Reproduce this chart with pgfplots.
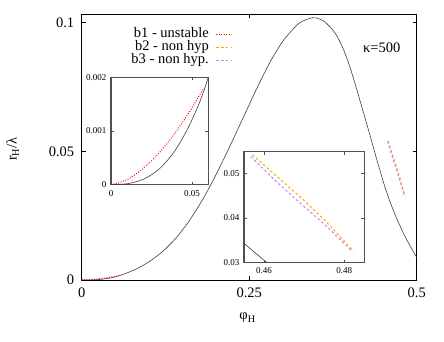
\documentclass[border=0pt]{standalone}
\usepackage{fontspec}
\setmainfont{Liberation Serif}
\usepackage{pgfplots}
\usepackage{pgfplotstable}
\pgfplotsset{compat=1.18}
\definecolor{cred}{HTML}{FF0000}
\definecolor{corange}{HTML}{FFA500}
\definecolor{cpurple}{HTML}{C080FF}
\definecolor{ccurve}{HTML}{404040}
\definecolor{cframe}{HTML}{505050}

\pgfplotstableread{
x y
0 0
0.01 0.0000145
0.02 0.0000976
0.03 0.000297
0.04 0.000656
0.05 0.00121
0.06 0.0020
0.08 0.0041
0.10 0.0070
0.12 0.0109
0.14 0.0161
0.16 0.0228
0.18 0.0310
0.19 0.0357
0.20 0.0407
0.22 0.0513
0.24 0.0625
0.25 0.0681
0.26 0.0737
0.28 0.0841
0.30 0.0927
0.32 0.0987
0.33 0.1006
0.34 0.1016
0.345 0.1019
0.35 0.1018
0.36 0.1008
0.37 0.0985
0.38 0.0952
0.39 0.0900
0.40 0.0830
0.41 0.0745
0.42 0.0655
0.43 0.0565
0.44 0.0472
0.45 0.0383
0.455 0.0343
0.46 0.0305
0.47 0.0240
0.48 0.0183
0.49 0.0133
0.50 0.0088
}\curvetab

\pgfplotstableread{
x y
0 0
0.005 0.00003
0.01 0.00009
0.015 0.000185
0.02 0.000302
0.025 0.00044
0.03 0.000601
0.035 0.000781
0.04 0.00098
0.045 0.0012
0.05 0.00143
0.0568 0.00178
}\bonetab

\pgfplotstableread{
x y
0.4571 0.0541
0.4630 0.0494
0.4690 0.0447
0.4750 0.0396
0.4823 0.0326
}\btwotab

\pgfplotstableread{
x y
0.4567 0.0537
0.4625 0.0486
0.4685 0.0437
0.4750 0.0386
0.4819 0.0326
}\bthreetab

\begin{document}
\begin{tikzpicture}[x=1pt,y=1pt]
\useasboundingbox (0,0) rectangle (444,342);
% main axis
\begin{axis}[
  at={(81.7pt,62pt)}, anchor=south west,
  scale only axis, width=335pt, height=266pt,
  xmin=0, xmax=0.5, ymin=0, ymax=0.10334,
  xtick={0,0.25,0.5}, xticklabels={0,0.25,0.5},
  ytick={0,0.05,0.1}, yticklabels={0,0.05,0.1},
  scaled ticks=false,
  tick pos=both, tick align=inside,
  major tick length=4pt,
  axis line style={line width=0.8pt, black},
  every tick/.style={black, line width=0.6pt},
  tick label style={font=\fontsize{14.5}{16}\selectfont},
  xticklabel style={yshift=-4pt},
  yticklabel style={xshift=-4pt},
  xlabel={φ\textsubscript{H}},
  ylabel={r\textsubscript{H}/λ},
  every axis x label/.style={at={(axis description cs:0.495,-0.143)},anchor=center,font=\fontsize{14.5}{16}\selectfont},
  every axis y label/.style={at={(axis description cs:-0.206,0.4925)},rotate=90,anchor=center,font=\fontsize{14.5}{16}\selectfont},
  legend plot pos=right,
  legend cell align=right,
  legend style={at={(axis description cs:0.4487,0.949)}, anchor=north east,
    draw=none, fill=none, inner sep=0pt, row sep=0pt, column sep=6pt,
    font=\fontsize{14.5}{16}\selectfont,
    nodes={text height=8.5pt, text depth=2.5pt, inner sep=1pt}},
  legend image code/.code={\draw[#1] (0pt,0pt) -- (15pt,0pt);},
  clip=true,
]
\addplot[ccurve, line width=0.6pt, smooth, forget plot] table[x=x,y=y] {\curvetab};
\addplot[cred, line width=1pt, dash pattern=on 0.9pt off 1.6pt] table[x=x,y=y] {\bonetab};
\addlegendentry{b1 - unstable}
\addplot[corange, line width=1pt, dash pattern=on 2.4pt off 2.4pt] table[x=x,y=y] {\btwotab};
\addlegendentry{b2 - non hyp}
\addplot[cpurple, line width=1pt, dash pattern=on 2.4pt off 2.4pt] table[x=x,y=y] {\bthreetab};
\addlegendentry{b3 - non hyp.}
\node[font=\fontsize{14.5}{16}\selectfont] at (axis cs:0.4478,0.0901) {κ=500};
\end{axis}

% inset 1
\begin{axis}[
  at={(111pt,157.5pt)}, anchor=south west,
  scale only axis, width=97.3pt, height=107.2pt,
  xmin=0, xmax=0.06, ymin=0, ymax=0.002,
  xtick={0,0.05}, xticklabels={0,0.05},
  ytick={0,0.001,0.002}, yticklabels={0,0.001,0.002},
  scaled ticks=false,
  tick pos=both, tick align=inside,
  major tick length=3pt,
  axis line style={line width=1.2pt, cframe},
  every tick/.style={cframe, line width=0.5pt},
  axis background/.style={fill=white},
  tick label style={font=\fontsize{9}{10}\selectfont},
  xticklabel style={yshift=-2pt},
  yticklabel style={xshift=-1pt},
  clip=true,
]
\addplot[ccurve, line width=0.6pt, smooth] table[x=x,y=y] {\curvetab};
\addplot[cred, line width=1pt, dash pattern=on 0.9pt off 1.6pt] table[x=x,y=y] {\bonetab};
\end{axis}

% inset 2
\begin{axis}[
  at={(244pt,79.4pt)}, anchor=south west,
  scale only axis, width=120.3pt, height=110.9pt,
  xmin=0.455, xmax=0.485, ymin=0.03, ymax=0.0548,
  xtick={0.46,0.48}, xticklabels={0.46,0.48},
  ytick={0.03,0.04,0.05}, yticklabels={0.03,0.04,0.05},
  scaled ticks=false,
  tick pos=both, tick align=inside,
  major tick length=3pt,
  axis line style={line width=1.2pt, cframe},
  every tick/.style={cframe, line width=0.5pt},
  axis background/.style={fill=white},
  tick label style={font=\fontsize{9}{10}\selectfont},
  xticklabel style={yshift=-1pt},
  yticklabel style={xshift=-1pt},
  clip=true,
]
\addplot[ccurve, line width=0.6pt] table[x=x,y=y] {\curvetab};
\addplot[corange, line width=1pt, dash pattern=on 2.4pt off 2.4pt] table[x=x,y=y] {\btwotab};
\addplot[cpurple, line width=1pt, dash pattern=on 2.4pt off 2.4pt] table[x=x,y=y] {\bthreetab};
\end{axis}
\end{tikzpicture}
\end{document}
